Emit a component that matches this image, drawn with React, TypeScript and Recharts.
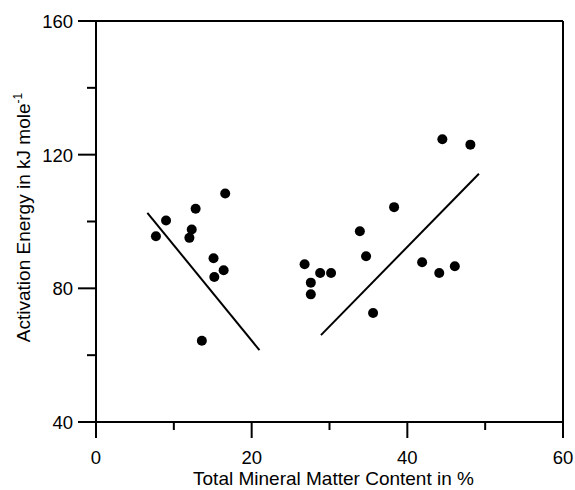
import React from 'react';
import { ScatterChart, Scatter, XAxis, YAxis, ReferenceLine } from 'recharts';

const mineralMatter = [7.7, 9.0, 12.0, 12.3, 12.8, 13.6, 15.1, 15.2, 16.4, 16.6, 26.8, 27.6, 27.6, 28.8, 30.2, 33.9, 34.7, 35.6, 38.3, 41.9, 44.1, 44.5, 46.1, 48.1];
const activationEnergy = [95.6, 100.3, 95.1, 97.6, 103.8, 64.3, 89.0, 83.4, 85.4, 108.4, 87.2, 78.2, 81.7, 84.6, 84.6, 97.1, 89.6, 72.6, 104.3, 87.8, 84.6, 124.6, 86.6, 123.0];

const lowFitX = [6.6, 21.0];
const lowFitY = [102.6, 61.5];
const highFitX = [28.9, 49.2];
const highFitY = [66.0, 114.3];

const xTicks = [0, 10, 20, 30, 40, 50, 60];
const yTicks = [40, 60, 80, 100, 120, 140, 160];
const majorXTicks = [0, 20, 40, 60];
const majorYTicks = [40, 80, 120, 160];

const xTitle = 'Total Mineral Matter Content in %';
const yTitle = 'Activation Energy in kJ mole';
const yTitleSup = '-1';

const FONT = '"Liberation Sans", Arial, sans-serif';

const points = mineralMatter.map((x, i) => ({ x, y: activationEnergy[i] }));
const lowFit = lowFitX.map((x, i) => ({ x, y: lowFitY[i] }));
const highFit = highFitX.map((x, i) => ({ x, y: highFitY[i] }));

const XTick = (props: any) => {
  const { x, y, payload } = props;
  const v = payload.value;
  const major = majorXTicks.includes(v);
  return (
    <g>
      <line x1={x} x2={x} y1={y} y2={y + (major ? 16 : 8)} stroke="#000" strokeWidth={2} />
      {major && (
        <text x={x} y={y + 42} textAnchor="middle" fontSize={18.5} fontFamily={FONT} fill="#000">
          {v}
        </text>
      )}
    </g>
  );
};

const YTick = (props: any) => {
  const { x, y, payload } = props;
  const v = payload.value;
  const major = majorYTicks.includes(v);
  return (
    <g>
      <line x1={x - (major ? 18 : 9)} x2={x} y1={y} y2={y} stroke="#000" strokeWidth={2} />
      {major && (
        <text x={x - 23} y={y + 7} textAnchor="end" fontSize={18.5} fontFamily={FONT} fill="#000">
          {v}
        </text>
      )}
    </g>
  );
};

const XTitle = (props: any) => {
  const vb = props.viewBox || { x: 96, y: 422, width: 467, height: 68 };
  const cx = vb.x + vb.width / 2 + 4;
  return (
    <text x={cx} y={vb.y + 63} textAnchor="middle" fontSize={19} fontFamily={FONT} fill="#000">
      {xTitle}
    </text>
  );
};

const YTitle = (props: any) => {
  const vb = props.viewBox || { x: 0, y: 21, width: 96, height: 401 };
  const cx = 30;
  const cy = vb.y + vb.height / 2 - 4;
  return (
    <text
      x={cx}
      y={cy}
      textAnchor="middle"
      fontSize={19}
      fontFamily={FONT}
      fill="#000"
      transform={`rotate(-90, ${cx}, ${cy})`}
    >
      {yTitle}
      <tspan fontSize={12} dy={-8}>{yTitleSup}</tspan>
    </text>
  );
};

const Dot = (p: any) => <circle cx={p.cx} cy={p.cy} r={5} fill="#000" />;
const NoShape = () => <g />;

export default function App() {
  return (
    <div style={{ position: 'absolute', left: 0, top: 0, background: '#fff' }}>
      <ScatterChart width={575} height={490} margin={{ top: 21, right: 12, left: 0, bottom: 0 }}>
        <XAxis
          type="number"
          dataKey="x"
          domain={[0, 60]}
          ticks={xTicks}
          interval={0}
          tick={XTick}
          tickLine={false}
          tickSize={0}
          tickMargin={0}
          axisLine={{ stroke: '#000', strokeWidth: 2 }}
          height={68}
          allowDataOverflow
          label={{ content: XTitle }}
        />
        <YAxis
          type="number"
          dataKey="y"
          domain={[40, 160]}
          ticks={yTicks}
          interval={0}
          tick={YTick}
          tickLine={false}
          tickSize={0}
          tickMargin={0}
          axisLine={{ stroke: '#000', strokeWidth: 2 }}
          width={96}
          allowDataOverflow
          label={{ content: YTitle }}
        />
        <ReferenceLine x={60} stroke="#000" strokeWidth={2} />
        <ReferenceLine y={160} stroke="#000" strokeWidth={2} />
        <Scatter data={lowFit} line={{ stroke: '#000', strokeWidth: 2 }} shape={NoShape} isAnimationActive={false} />
        <Scatter data={highFit} line={{ stroke: '#000', strokeWidth: 2 }} shape={NoShape} isAnimationActive={false} />
        <Scatter data={points} shape={Dot} isAnimationActive={false} />
      </ScatterChart>
    </div>
  );
}
